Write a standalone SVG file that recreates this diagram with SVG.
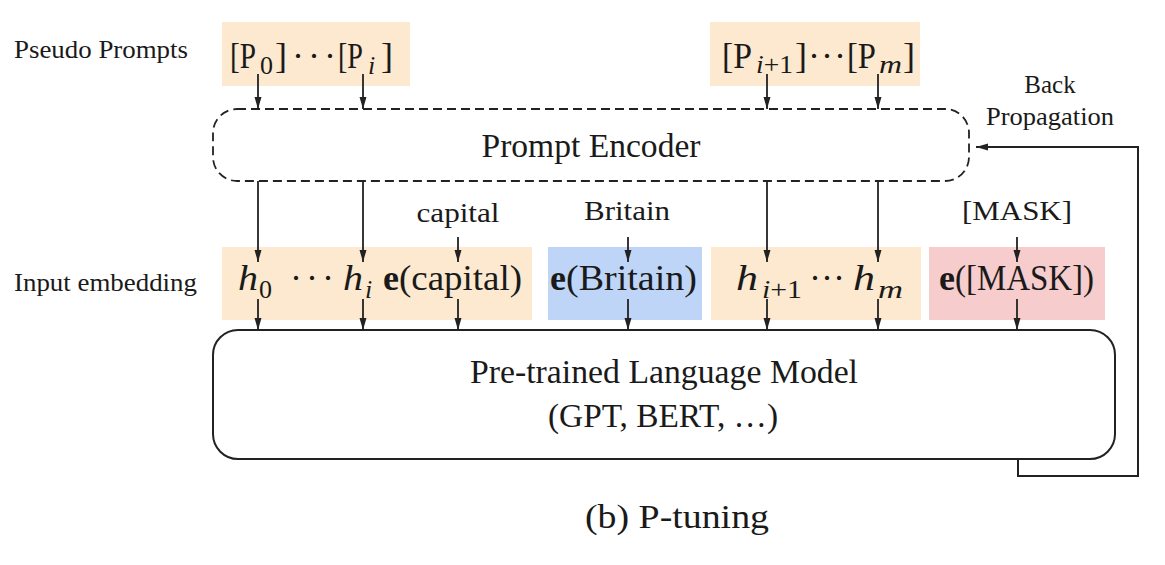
<svg xmlns="http://www.w3.org/2000/svg" width="1165" height="565" viewBox="0 0 1165 565">
<style>
.t{font-family:"Liberation Serif","Times New Roman",serif;fill:#1a1a1a}
.it{font-style:italic}
.b{font-weight:bold}
.ln{stroke:#222;stroke-width:1.8;fill:none}
.or{fill:#FCE9CF}
.bl{fill:#BED5F7}
.pk{fill:#F6CCCC}
</style>
<defs>
<marker id="ah" viewBox="0 0 12 8" refX="12" refY="4" markerWidth="12" markerHeight="8" markerUnits="userSpaceOnUse" orient="auto">
<path d="M0,0.5 L12,4 L0,7.5 z" fill="#222"/>
</marker>
</defs>
<rect width="1165" height="565" fill="#fff"/>

<g id="label-pseudo"><text class="t" x="14" y="58" font-size="26" textLength="174" lengthAdjust="spacingAndGlyphs">Pseudo Prompts</text></g>
<g id="label-input"><text class="t" x="14" y="291" font-size="26" textLength="183" lengthAdjust="spacingAndGlyphs">Input embedding</text></g>

<g id="prompts-left">
<rect class="or" x="222" y="22" width="188" height="64"/>
<text class="t" x="230" y="68" font-size="36" textLength="26" lengthAdjust="spacingAndGlyphs">[P</text>
<text class="t" x="260" y="74" font-size="26">0</text>
<text class="t" x="275" y="68" font-size="36">]</text>
<text class="t" x="292" y="68" font-size="36" letter-spacing="4">···</text>
<text class="t" x="338" y="68" font-size="36" textLength="25" lengthAdjust="spacingAndGlyphs">[P</text>
<text class="t it" x="368" y="74" font-size="26">i</text>
<text class="t" x="381" y="68" font-size="36">]</text>
</g>

<g id="prompts-right">
<rect class="or" x="710" y="22" width="210" height="64"/>
<text class="t" x="722" y="68" font-size="36" textLength="30" lengthAdjust="spacingAndGlyphs">[P</text>
<text class="t" x="756" y="73" font-size="26" textLength="37" lengthAdjust="spacingAndGlyphs"><tspan class="it">i</tspan>+1</text>
<text class="t" x="795" y="68" font-size="36">]</text>
<text class="t" x="808" y="68" font-size="36" letter-spacing="1">···</text>
<text class="t" x="847" y="68" font-size="36" textLength="29" lengthAdjust="spacingAndGlyphs">[P</text>
<text class="t it" x="879" y="73" font-size="26" textLength="23" lengthAdjust="spacingAndGlyphs">m</text>
<text class="t" x="903" y="68" font-size="36">]</text>
</g>

<g id="prompt-encoder">
<rect x="213" y="109" width="756" height="72" rx="24" ry="24" fill="none" stroke="#222" stroke-width="1.8" stroke-dasharray="9,5"/>
<text class="t" x="591" y="157" font-size="33" text-anchor="middle" textLength="219" lengthAdjust="spacingAndGlyphs">Prompt Encoder</text>
</g>

<g id="back-propagation-label">
<text class="t" x="1050" y="93" font-size="25" text-anchor="middle">Back</text>
<text class="t" x="1050" y="125" font-size="25" text-anchor="middle" textLength="128" lengthAdjust="spacingAndGlyphs">Propagation</text>
</g>

<g id="word-capital"><text class="t" x="458" y="222" font-size="28" text-anchor="middle" textLength="83" lengthAdjust="spacingAndGlyphs">capital</text></g>
<g id="word-britain"><text class="t" x="627" y="220" font-size="28" text-anchor="middle" textLength="86" lengthAdjust="spacingAndGlyphs">Britain</text></g>
<g id="word-mask"><text class="t" x="1017" y="220" font-size="28" text-anchor="middle" textLength="110" lengthAdjust="spacingAndGlyphs">[MASK]</text></g>

<g id="embed-left">
<rect class="or" x="222" y="247" width="310" height="73"/>
<text class="t it" x="238" y="290" font-size="36" textLength="20" lengthAdjust="spacingAndGlyphs">h</text>
<text class="t" x="259" y="298" font-size="26">0</text>
<text class="t" x="290" y="290" font-size="36" letter-spacing="4">···</text>
<text class="t it" x="343" y="290" font-size="36" textLength="20" lengthAdjust="spacingAndGlyphs">h</text>
<text class="t it" x="365" y="298" font-size="26">i</text>
<text class="t b" x="383" y="290" font-size="36">e</text>
<text class="t" x="399" y="290" font-size="36" textLength="123" lengthAdjust="spacingAndGlyphs">(capital)</text>
</g>

<g id="embed-britain">
<rect class="bl" x="548" y="247" width="154" height="73"/>
<text class="t b" x="550" y="290" font-size="36">e</text>
<text class="t" x="566" y="290" font-size="36" textLength="131" lengthAdjust="spacingAndGlyphs">(Britain)</text>
</g>

<g id="embed-right">
<rect class="or" x="711" y="247" width="210" height="73"/>
<text class="t it" x="736" y="290" font-size="36" textLength="22" lengthAdjust="spacingAndGlyphs">h</text>
<text class="t" x="762" y="298" font-size="26" textLength="40" lengthAdjust="spacingAndGlyphs"><tspan class="it">i</tspan>+1</text>
<text class="t" x="809" y="290" font-size="36">···</text>
<text class="t it" x="853" y="290" font-size="36" textLength="22" lengthAdjust="spacingAndGlyphs">h</text>
<text class="t it" x="878" y="298" font-size="26" textLength="25" lengthAdjust="spacingAndGlyphs">m</text>
</g>

<g id="embed-mask">
<rect class="pk" x="929" y="247" width="176" height="73"/>
<text class="t b" x="939" y="290" font-size="36">e</text>
<text class="t" x="955" y="290" font-size="36" textLength="139" lengthAdjust="spacingAndGlyphs">([MASK])</text>
</g>

<g id="plm">
<rect x="213" y="330" width="902" height="129" rx="25" ry="25" fill="#fff" stroke="#222" stroke-width="2"/>
<text class="t" x="664" y="383" font-size="33" text-anchor="middle" textLength="388" lengthAdjust="spacingAndGlyphs">Pre-trained Language Model</text>
<text class="t" x="663" y="427" font-size="33" text-anchor="middle" textLength="230" lengthAdjust="spacingAndGlyphs">(GPT, BERT, …)</text>
</g>

<g id="caption"><text class="t" x="677" y="528" font-size="34" text-anchor="middle" textLength="184" lengthAdjust="spacingAndGlyphs">(b) P-tuning</text></g>

<g id="connectors" class="ln" marker-end="url(#ah)">
<path d="M258,74 V109"/>
<path d="M363,74 V109"/>
<path d="M767,74 V109"/>
<path d="M878,74 V109"/>
<path d="M258,181 V262"/>
<path d="M363,181 V262"/>
<path d="M767,181 V262"/>
<path d="M878,181 V262"/>
<path d="M458,237 V262"/>
<path d="M628,237 V262"/>
<path d="M1017,237 V262"/>
<path d="M258,299 V330"/>
<path d="M363,299 V330"/>
<path d="M458,299 V330"/>
<path d="M628,299 V330"/>
<path d="M767,299 V330"/>
<path d="M878,299 V330"/>
<path d="M1017,299 V330"/>
<path d="M1018,459 V476 H1138 V147 H976" stroke-width="2"/>
</g>
</svg>
